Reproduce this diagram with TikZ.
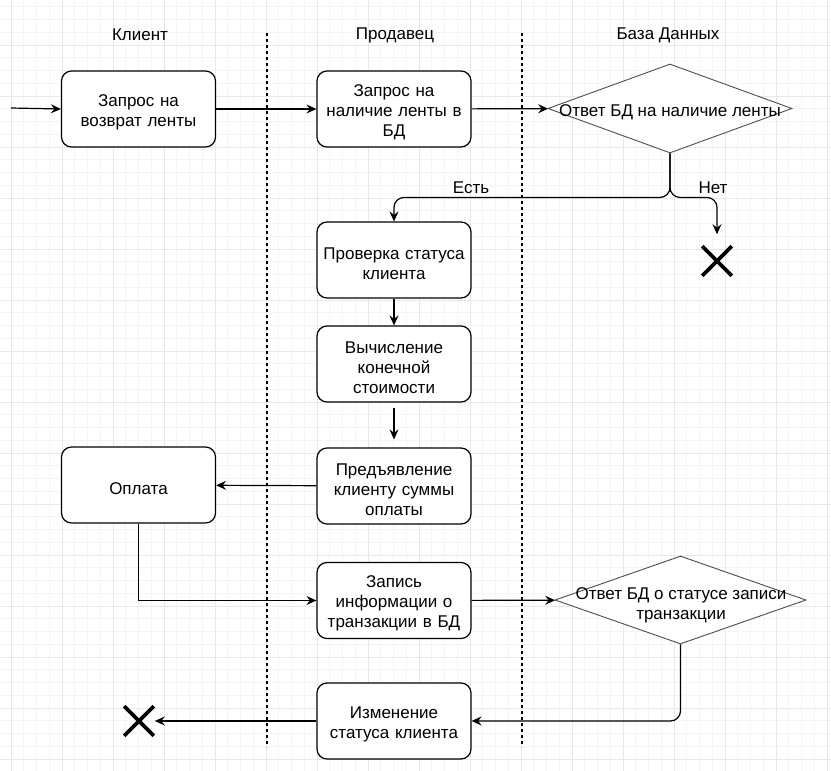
\documentclass[tikz,border=0pt]{standalone}
\usepackage{fontspec}
\setmainfont{Liberation Sans}
\usetikzlibrary{shapes.geometric,shapes.misc,arrows.meta,calc}
\newcommand\dfont{\fontsize{17}{20}\selectfont}
\begin{document}
\begin{tikzpicture}[x=1pt,y=-1pt,
  box/.style={draw, rounded corners=10pt, fill=white, line width=1.2pt,
    minimum width=154pt, minimum height=76pt, text width=152pt, align=center,
    inner sep=0pt, font=\dfont, execute at begin node={\rule{0pt}{18.5pt}}},
  dia/.style={draw=black!70, diamond, fill=white, line width=0.9pt, inner sep=0pt},
  dtxt/.style={align=center, font=\dfont, inner sep=0pt},
  arr/.style={-{Stealth[length=10pt,width=9pt,inset=3.5pt]}, line width=1.2pt},
  lane/.style={dashed, dash pattern=on 3pt off 3pt, line width=1.2pt},
  xmark/.style={cross out, draw, line width=3.6pt, minimum size=26pt, inner sep=0pt},
  hdr/.style={font=\dfont, inner sep=0pt},
  minorg/.style={draw=black!4, line width=0.8pt},
  majorg/.style={draw=black!9, line width=0.8pt}]
\useasboundingbox (0,0) rectangle (831,771);
\fill[white] (0,0) rectangle (831,771);
% grid
\foreach \i in {0,...,64} \draw[minorg] ({11+12.75*\i},0) -- ({11+12.75*\i},771);
\foreach \j in {-3,...,56} \draw[minorg] (0,{45+12.75*\j}) -- (831,{45+12.75*\j});
\foreach \i in {0,...,16} \draw[majorg] ({11+51*\i},0) -- ({11+51*\i},771);
\foreach \j in {0,...,14} \draw[majorg] (0,{45+51*\j}) -- (831,{45+51*\j});
% lanes
\node[hdr] (h1) at (140,35) {Клиент};
\node[hdr] (h2) at (395,35) {Продавец};
\node[hdr] (h3) at (668,35) {База Данных};
\draw[lane] (267,33) -- (267,747);
\draw[lane] (522,33) -- (522,747);
% nodes
\node[box] (b1) at (138.5,109) {Запрос на\\возврат ленты};
\node[box] (b2) at (394,109) {Запрос на\\наличие ленты в\\БД};
\node[dia, minimum width=244pt, minimum height=89pt] (d1) at (670,108.5) {};
\node[dtxt] (d1t) at (670,112) {Ответ БД на наличие ленты};
\node[box] (b4) at (394,260) {Проверка статуса\\клиента};
\node[box] (b5) at (394,364) {Вычисление\\конечной\\стоимости};
\node[box] (b6) at (394,486) {Предъявление\\клиенту суммы\\оплаты};
\node[box] (pay) at (138.5,485) {Оплата};
\node[box] (b7) at (394,600.5) {Запись\\информации о\\транзакции в БД};
\node[dia, minimum width=251pt, minimum height=88pt] (d2) at (680.5,600) {};
\node[dtxt] (d2t) at (681,605) {Ответ БД о статусе записи\\транзакции};
\node[box] (b8) at (394,721) {Изменение\\статуса клиента};
\node[xmark] (x1) at (717,261) {};
\node[xmark] (x2) at (139,721) {};
\coordinate (s) at (11,108);
\coordinate (a1) at ($(b5.south)+(0,5)$);
\coordinate (a2) at ($(b6.north)+(0,-8)$);
\coordinate (n1) at ($(x1.north)+(0,-12)$);
% edges
\draw[arr] (s) -- (b1.west);
\draw[arr] (b1) -- (b2);
\draw[arr] (b2) -- (d1);
\draw[arr, rounded corners=10pt] (d1.south) -- ++(0,44) -| (b4.north);
\draw[arr, rounded corners=10pt] (d1.south) -- ++(0,44) -| (n1);
\node[hdr] (l1) at (471,188) {Есть};
\node[hdr] (l2) at (713,188) {Нет};
\draw[arr] (b4) -- (b5);
\draw[arr] (a1) -- (a2);
\draw[arr] (b6) -- (pay);
\draw[arr] (pay.south) |- (b7.west);
\draw[arr] (b7) -- (d2);
\draw[arr, rounded corners=10pt] (d2.south) |- (b8.east);
\draw[arr] (b8.west) -- ($(x2.east)+(1,0)$);
\end{tikzpicture}
\end{document}
